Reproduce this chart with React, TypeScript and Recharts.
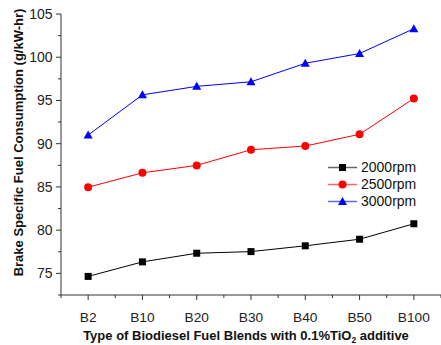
import React from 'react';
import { LineChart, Line, XAxis, YAxis, Legend } from 'recharts';

const categories = ['B2', 'B10', 'B20', 'B30', 'B40', 'B50', 'B100'];
const rpm2000 = [74.65, 76.33, 77.33, 77.52, 78.19, 78.95, 80.74];
const rpm2500 = [84.97, 86.63, 87.49, 89.3, 89.73, 91.09, 95.23];
const rpm3000 = [91.0, 95.65, 96.63, 97.16, 99.3, 100.43, 103.3];
const seriesNames = ['2000rpm', '2500rpm', '3000rpm'];
const seriesColors = ['#000000', '#ff0000', '#0000ff'];
const seriesShapes = ['square', 'circle', 'triangle'];
const yTicks = [72.5, 75, 77.5, 80, 82.5, 85, 87.5, 90, 92.5, 95, 97.5, 100, 102.5, 105];
const xTicks = [-0.5, 0, 0.5, 1, 1.5, 2, 2.5, 3, 3.5, 4, 4.5, 5, 5.5, 6, 6.5];

const FONT = '"Liberation Sans", Arial, Helvetica, sans-serif';
const AXIS = '#333';

const data = categories.map((c, i) => ({
  idx: i,
  cat: c,
  s0: rpm2000[i],
  s1: rpm2500[i],
  s2: rpm3000[i],
}));

const Marker = ({ shape, cx, cy, color }: any) => {
  if (shape === 'square') {
    return <rect x={cx - 3.5} y={cy - 3.5} width={7} height={7} fill={color} />;
  }
  if (shape === 'circle') {
    return <circle cx={cx} cy={cy} r={4} fill={color} />;
  }
  return (
    <polygon
      points={`${cx},${cy - 4.5} ${cx - 4.5},${cy + 3.5} ${cx + 4.5},${cy + 3.5}`}
      fill={color}
    />
  );
};

const makeDot = (k: number) => (props: any) => {
  const { cx, cy, index } = props;
  return (
    <g key={`d${k}-${index}`}>
      <Marker shape={seriesShapes[k]} cx={cx} cy={cy} color={seriesColors[k]} />
    </g>
  );
};

const XTick = (props: any) => {
  const { x, y, payload } = props;
  const v = payload.value;
  const major = Number.isInteger(v);
  return (
    <g>
      <line x1={x} x2={x} y1={y} y2={y + (major ? 5 : 3)} stroke={AXIS} strokeWidth={1} />
      {major && (
        <text x={x} y={y + 26.8} textAnchor="middle" fontFamily={FONT} fontSize={13.7} fill="#222">
          {categories[v]}
        </text>
      )}
    </g>
  );
};

const YTick = (props: any) => {
  const { x, y, payload } = props;
  const v = payload.value;
  const major = v % 5 === 0;
  return (
    <g>
      <line x1={x} x2={x - (major ? 5 : 3)} y1={y} y2={y} stroke={AXIS} strokeWidth={1} />
      {major && (
        <text x={x - 8.5} y={y + 5} textAnchor="end" fontFamily={FONT} fontSize={14} fill="#222">
          {v}
        </text>
      )}
    </g>
  );
};

const XTitle = (props: any) => {
  const vb = props.viewBox || { x: 61, y: 295, width: 380, height: 50 };
  return (
    <text
      x={vb.x + vb.width / 2 - 5}
      y={vb.y + 45}
      textAnchor="middle"
      fontFamily={FONT}
      fontSize={13}
      fontWeight="bold"
      fill="#111"
    >
      Type of Biodiesel Fuel Blends with 0.1%TiO
      <tspan fontSize={8.5} dy={3}>2</tspan>
      <tspan dy={-3}> additive</tspan>
    </text>
  );
};

const YTitle = (props: any) => {
  const vb = props.viewBox || { x: 0, y: 14, width: 61, height: 281 };
  const cx = 22.5;
  const cy = vb.y + vb.height / 2 - 12;
  return (
    <text
      x={cx}
      y={cy}
      transform={`rotate(-90, ${cx}, ${cy})`}
      textAnchor="middle"
      fontFamily={FONT}
      fontSize={13}
      fontWeight="bold"
      fill="#111"
    >
      Brake Specific Fuel Consumption (g/kW-hr)
    </text>
  );
};

const renderLegend = () => (
  <div style={{ fontFamily: FONT, fontSize: 14, color: '#111' }}>
    {seriesNames.map((name, k) => (
      <div key={name} style={{ display: 'flex', alignItems: 'center', height: 17 }}>
        <svg width={31} height={17} style={{ display: 'block' }}>
          <line x1={1} x2={30} y1={8.5} y2={8.5} stroke={seriesColors[k]} strokeOpacity={0.6} strokeWidth={1.5} />
          <Marker shape={seriesShapes[k]} cx={15.5} cy={8.5} color={seriesColors[k]} />
        </svg>
        <span style={{ marginLeft: 3, lineHeight: '17px' }}>{name}</span>
      </div>
    ))}
  </div>
);

export default function App() {
  return (
    <div style={{ position: 'absolute', left: 0, top: 0, width: 441, height: 345, background: '#fff' }}>
      <LineChart
        width={441}
        height={345}
        data={data}
        margin={{ top: 14, right: 0, bottom: 0, left: 0 }}
      >
        <XAxis
          dataKey="idx"
          type="number"
          domain={[-0.5, 6.5]}
          ticks={xTicks}
          interval={0}
          height={50}
          tickSize={0}
          tickMargin={0}
          tickLine={false}
          axisLine={{ stroke: AXIS, strokeWidth: 1 }}
          tick={<XTick />}
          label={<XTitle />}
        />
        <YAxis
          type="number"
          domain={[72.5, 105]}
          ticks={yTicks}
          interval={0}
          width={61}
          tickSize={0}
          tickMargin={0}
          tickLine={false}
          axisLine={{ stroke: AXIS, strokeWidth: 1 }}
          tick={<YTick />}
          label={<YTitle />}
        />
        <Legend
          layout="vertical"
          align="center"
          verticalAlign="middle"
          wrapperStyle={{ left: 327, top: 159, width: 114 }}
          content={renderLegend}
        />
        {['s0', 's1', 's2'].map((key, k) => (
          <Line
            key={key}
            dataKey={key}
            name={seriesNames[k]}
            stroke={seriesColors[k]}
            strokeWidth={1}
            dot={makeDot(k)}
            activeDot={false}
            isAnimationActive={false}
          />
        ))}
      </LineChart>
    </div>
  );
}
